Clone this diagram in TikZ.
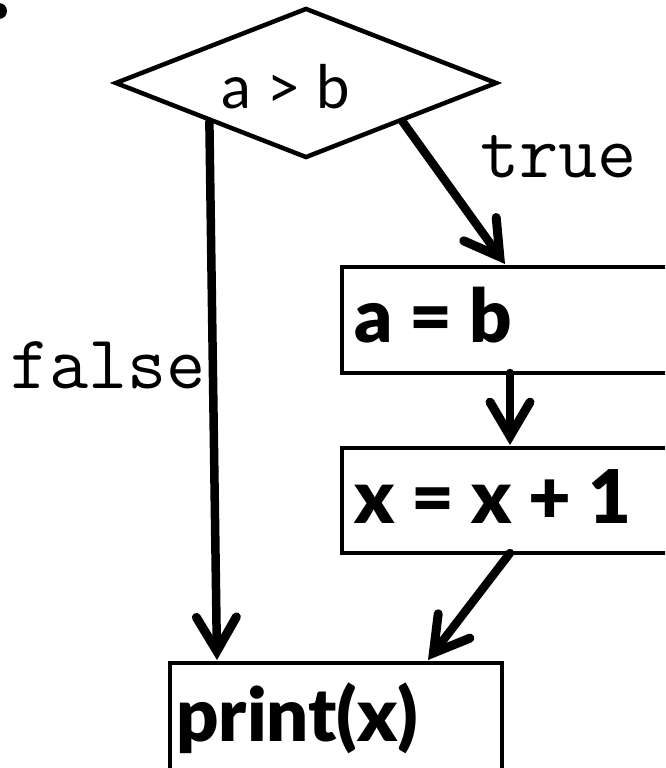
\documentclass[tikz,border=0pt]{standalone}
\usepackage{fontspec}
\setmainfont{Lato}
\newfontfamily\heavyf{Lato Black}
\usetikzlibrary{shapes.geometric,arrows.meta,calc}
\tikzset{
  conn/.style={line width=8.5pt,line cap=round,
    -{Straight Barb[length=34pt,width=40pt,line width=9pt,line cap=round]}},
  boxline/.style={line width=4.5pt},
  boxtext/.style={font=\fontsize{74}{76}\selectfont\heavyf,anchor=base west,inner sep=0pt},
  lbl/.style={font=\fontsize{76}{78}\selectfont\ttfamily,anchor=base west,inner sep=0pt}
}
\begin{document}
\begin{tikzpicture}[x=1pt,y=-1pt]
\path[use as bounding box] (0,0) rectangle (665,768);
\clip (0,0) rectangle (665,768);
% partial glyph at top-left
\fill (-1,11) circle (8);
% decision
\node[draw,shape=diamond,boxline,aspect=2.55,minimum width=382pt,minimum height=150pt,inner sep=0pt] (dia) at (306,83) {};
\node[font=\fontsize{60}{62}\selectfont,anchor=base,inner sep=0pt] (cond) at (286,108) {a > b};
% boxes
\draw[boxline] (342,267) rectangle (720,373);
\coordinate (abnw) at (342,267);
\coordinate (absw) at (342,373);
\node[boxtext] (ab) at (354,342) {a = b};
\draw[boxline] (342,448) rectangle (720,553);
\coordinate (xxnw) at (342,448);
\coordinate (xxsw) at (342,553);
\node[boxtext] (xx) at (354,523) {x = x + 1};
\draw[boxline] (170,663) rectangle (502,800);
\coordinate (prnw) at (170,663);
\node[boxtext] (pr) at (176,741) {print(x)};
% labels
\node[lbl] (tlab) at (480,177) {true};
\node[lbl] (flab) at (10,388) {false};
% connectors
\draw[conn] (dia.south west) -- ($(prnw)+(47,-3)$);
\draw[conn] (dia.south east) -- ($(abnw)+(163,-3)$);
\draw[conn] ($(absw)+(168,0)$) -- ($(xxnw)+(168,-3)$);
\draw[conn] ($(xxsw)+(168,0)$) -- ($(prnw)+(258,-3)$);
\end{tikzpicture}
\end{document}
